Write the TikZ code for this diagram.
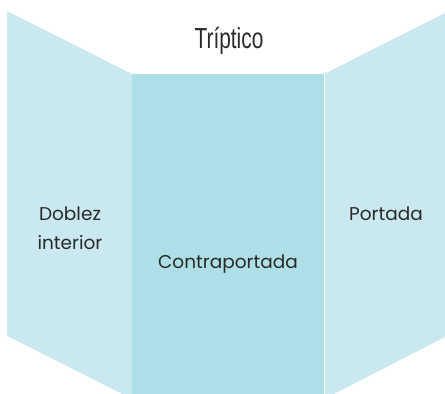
\documentclass[tikz,border=0pt]{standalone}
\usepackage{fontspec}
\setmainfont{Poppins}
\newfontfamily\titlefont[FakeStretch=0.72]{Liberation Sans}
\definecolor{sidepanel}{HTML}{C9E8EF}
\definecolor{midpanel}{HTML}{AEDFE6}
\definecolor{labeltext}{HTML}{2A2A2A}
\begin{document}
\begin{tikzpicture}[
    x=1pt, y=-1pt,
    label/.style={text=labeltext, font=\fontsize{18.5}{29}\selectfont, align=center, inner sep=0pt},
    title/.style={text=labeltext, font=\titlefont\fontsize{29}{30}\selectfont, inner sep=0pt}
]
    \useasboundingbox (0,0) rectangle (445,394);
    % panels
    \fill[sidepanel] (7,11) -- (132,74) -- (132,394) -- (7,394) -- (7,336) -- cycle;
    \fill[midpanel] (132,74) rectangle (324,394);
    \fill[sidepanel] (324,74) -- (445,13) -- (445,337) -- (334,394) -- (324,394) -- cycle;
    \fill[white] (7,336) -- (132,399) -- (7,399) -- cycle;
    \draw[white, line width=0.8pt] (324,74) -- (324,394);

    \node[title] (triptico) at (229,41) {Tríptico};
    \node[label] (doblez) at (70,228) {Doblez\\interior};
    \node[label] (contra) at (228,264) {Contraportada};
    \node[label] (portada) at (386,214) {Portada};
\end{tikzpicture}
\end{document}
